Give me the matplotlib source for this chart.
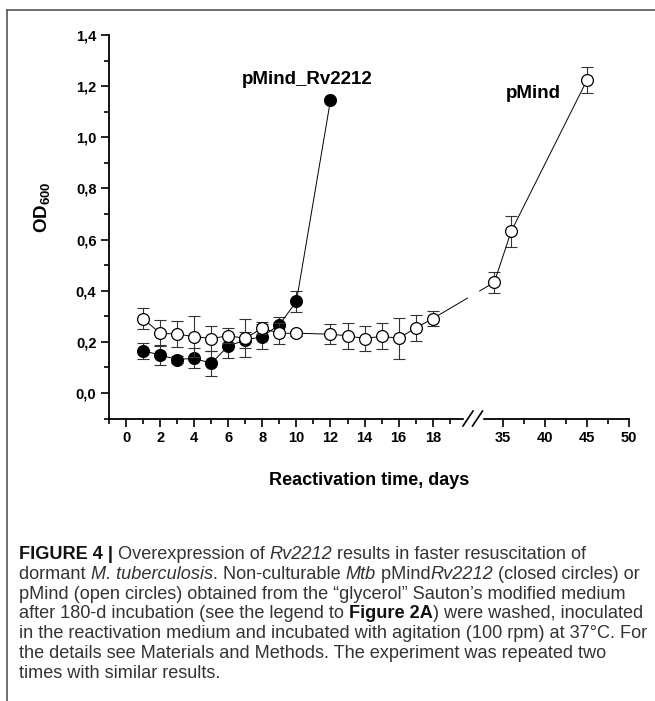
import numpy as np
import matplotlib
matplotlib.use('Agg')
from matplotlib import pyplot as plt
from matplotlib.lines import Line2D
from matplotlib.patches import Rectangle

plt.rcParams['font.family'] = ['Liberation Sans', 'DejaVu Sans']
plt.rcParams['mathtext.fontset'] = 'custom'
plt.rcParams['mathtext.rm'] = 'Liberation Sans'
plt.rcParams['mathtext.it'] = 'Liberation Sans:italic'
plt.rcParams['mathtext.bf'] = 'Liberation Sans:bold'

# pMind_Rv2212 (closed circles)
days_rv = [1, 2, 3, 4, 5, 6, 7, 8, 9, 10, 12]
od_rv = [0.165, 0.149, 0.131, 0.136, 0.116, 0.184, 0.207, 0.221, 0.267, 0.358, 1.145]
err_rv = [0.03, 0.038, 0.015, 0.04, 0.048, 0.047, 0.03, 0.047, 0.03, 0.04, 0.0]

# pMind (open circles)
days_pm = [1, 2, 3, 4, 5, 6, 7, 8, 9, 10, 12, 13, 14, 15, 16, 17, 18, 34, 36, 45]
od_pm = [0.291, 0.234, 0.230, 0.221, 0.213, 0.224, 0.214, 0.254, 0.233, 0.234,
         0.230, 0.224, 0.213, 0.222, 0.214, 0.254, 0.291, 0.433, 0.632, 1.223]
err_pm = [0.04, 0.05, 0.05, 0.08, 0.05, 0.03, 0.075, 0.025, 0.04, 0.01,
          0.04, 0.05, 0.05, 0.05, 0.08, 0.05, 0.028, 0.04, 0.06, 0.05]

x_major = [0, 2, 4, 6, 8, 10, 12, 14, 16, 18, 35, 40, 45, 50]
x_minor = [-1, 1, 3, 5, 7, 9, 11, 13, 15, 17, 19, 37.5, 42.5, 47.5]
y_major = [0.0, 0.2, 0.4, 0.6, 0.8, 1.0, 1.2, 1.4]
y_labels = ['0,0', '0,2', '0,4', '0,6', '0,8', '1,0', '1,2', '1,4']

# caption lines as (text, style) pieces: r regular, i italic, b bold
caption = [
    [('FIGURE 4 | ', 'b'), ('Overexpression of ', 'r'), ('Rv2212', 'i'),
     (' results in faster resuscitation of', 'r')],
    [('dormant ', 'r'), ('M. tuberculosis', 'i'), ('. Non-culturable ', 'r'), ('Mtb', 'i'),
     (' pMind', 'r'), ('Rv2212', 'i'), (' (closed circles) or', 'r')],
    [('pMind (open circles) obtained from the \u201cglycerol\u201d Sauton\u2019s modified medium', 'r')],
    [('after 180-d incubation (see the legend to ', 'r'), ('Figure 2A', 'b'),
     (') were washed, inoculated', 'r')],
    [('in the reactivation medium and incubated with agitation (100 rpm) at 37\u00b0C. For', 'r')],
    [('the details see Materials and Methods. The experiment was repeated two', 'r')],
    [('times with similar results.', 'r')],
]

# broken x axis: -1..19.76 then 32.5..50 (compressed)
brk_x = np.array([-1.0, 19.76, 32.5, 50.0])
brk_s = np.array([110.0, 463.0, 482.0, 629.0]) / 17.0
slope_lo = (brk_s[1] - brk_s[0]) / (brk_x[1] - brk_x[0])
slope_hi = (brk_s[3] - brk_s[2]) / (brk_x[3] - brk_x[2])


def fwd(x):
    x = np.asarray(x, dtype=float)
    s = np.interp(x, brk_x, brk_s)
    s = np.where(x < brk_x[0], brk_s[0] + (x - brk_x[0]) * slope_lo, s)
    s = np.where(x > brk_x[-1], brk_s[-1] + (x - brk_x[-1]) * slope_hi, s)
    return s


def inv(s):
    s = np.asarray(s, dtype=float)
    x = np.interp(s, brk_s, brk_x)
    x = np.where(s < brk_s[0], brk_x[0] + (s - brk_s[0]) / slope_lo, x)
    x = np.where(s > brk_s[-1], brk_x[-1] + (s - brk_s[-1]) / slope_hi, x)
    return x


fig = plt.figure(figsize=(6.55, 7.01), dpi=100)
ax = fig.add_axes([109 / 655, 282.4 / 701, 520 / 655, 383.6 / 701])
ax.set_xscale('function', functions=(fwd, inv))

ax.errorbar(days_rv, od_rv, yerr=err_rv, fmt='none', ecolor='#333333',
            elinewidth=0.8, capsize=4, capthick=0.8, zorder=2)
ax.plot(days_rv, od_rv, '-o', color='black', lw=0.7, ms=8.5,
        mfc='black', mec='black', mew=0.9, zorder=3)

ax.errorbar(days_pm, od_pm, yerr=err_pm, fmt='none', ecolor='#333333',
            elinewidth=0.8, capsize=4, capthick=0.8, zorder=4)
ax.plot(days_pm, od_pm, '-o', color='black', lw=0.7, ms=8.5,
        mfc='white', mec='black', mew=0.9, zorder=5)

ax.set_xlim(-1, 50)
ax.set_ylim(-0.1, 1.4)
ax.set_xticks(x_major, [str(v) for v in x_major])
ax.set_xticks(x_minor, minor=True)
ax.set_yticks(y_major, y_labels)
ax.set_yticks(np.arange(-0.1, 1.35, 0.2), minor=True)

for s in ['top', 'right']:
    ax.spines[s].set_visible(False)
for s in ['left', 'bottom']:
    ax.spines[s].set_linewidth(1.3)
ax.tick_params(which='major', direction='out', length=6, width=1.2,
               labelsize=10.5, pad=3)
ax.tick_params(which='minor', direction='out', length=3.5, width=1.2)
for lab in ax.get_xticklabels() + ax.get_yticklabels():
    lab.set_fontweight('bold')

ax.set_xlabel('Reactivation time, days', fontsize=13, fontweight='bold', va='top')
ax.xaxis.set_label_coords(0.5, -0.14)
ax.set_ylabel(r'$\mathbf{OD}_{\mathbf{600}}$', fontsize=13.5)
ax.yaxis.set_label_coords(-0.11, 0.55)

ax.text(10.65, 1.227, 'pMind_Rv2212', fontsize=13.5, fontweight='bold',
        ha='center', va='center')
ax.text(38.6, 1.173, 'pMind', fontsize=13.5, fontweight='bold',
        ha='center', va='center')


# axis break: white gaps and two slashes
def fx(px):
    return (px - 109) / 520.0


def fy(py):
    return (418.6 - py) / 383.6


ax.add_patch(Rectangle((fx(463.5), fy(430)), fx(481.5) - fx(463.5), fy(408) - fy(430),
                       transform=ax.transAxes, color='white', clip_on=False, zorder=6))
ax.add_patch(Rectangle((fx(468), 0), fx(478) - fx(468), 1,
                       transform=ax.transAxes, color='white', clip_on=False, zorder=6))
for off in [0, 9.5]:
    ax.add_line(Line2D([fx(463 + off), fx(473 + off)], [fy(426), fy(411)],
                       transform=ax.transAxes, color='black', lw=1.2,
                       clip_on=False, zorder=7))

# figure frame
fig.add_artist(Line2D([7 / 655, 7 / 655], [0, 1 - 10 / 701], transform=fig.transFigure,
                      color='#555555', lw=1.2))
fig.add_artist(Line2D([7 / 655, 1], [1 - 10 / 701, 1 - 10 / 701], transform=fig.transFigure,
                      color='#555555', lw=1.2))

# caption, drawn piece by piece
renderer = fig.canvas.get_renderer()
styles = {'r': dict(color='#333333'),
          'i': dict(color='#333333', fontstyle='italic'),
          'b': dict(color='#111111', fontweight='bold')}
cap_size = 13.05


def piece_width(txt, st):
    a = fig.text(0, 0, txt + 'x', fontsize=cap_size, **styles[st])
    b = fig.text(0, 0, 'x', fontsize=cap_size, **styles[st])
    w = a.get_window_extent(renderer).width - b.get_window_extent(renderer).width
    a.remove()
    b.remove()
    return w


for i, pieces in enumerate(caption):
    y = 1 - (559 + i * 19.8) / 701
    x = 19.0
    for txt, st in pieces:
        fig.text(x / 655, y, txt, fontsize=cap_size, ha='left', va='baseline', **styles[st])
        x += piece_width(txt, st)

fig.savefig('out.png', dpi=100)
